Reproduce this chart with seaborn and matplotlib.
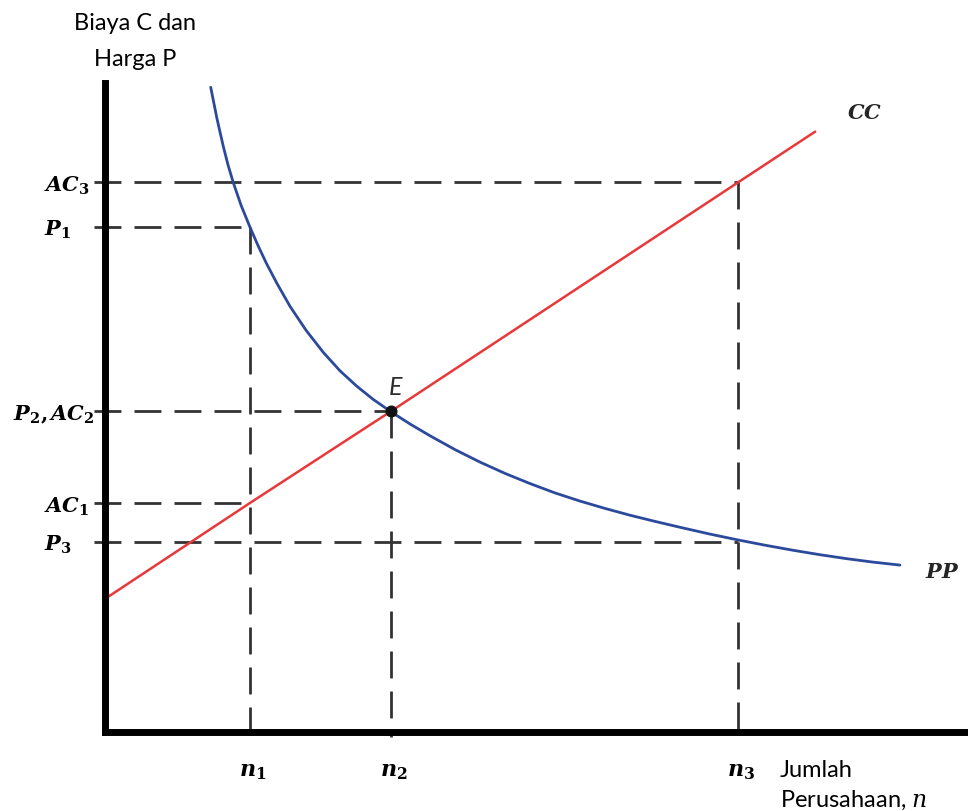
import matplotlib
matplotlib.use("Agg")
import matplotlib.pyplot as plt
import pandas as pd
import seaborn as sns

# PP curve: price P against the number of firms n
pp_n = [12.30, 13.03, 13.76, 14.30, 14.92, 15.81, 16.85, 17.78, 18.78, 19.98,
        21.48, 23.34, 25.34, 27.27, 29.21, 31.09, 33.18, 35.38, 37.70, 40.59,
        43.49, 46.38, 49.28, 52.17, 55.07, 57.96, 60.86, 63.75, 66.65, 70.12,
        73.40, 76.49, 79.77, 82.86, 85.95, 89.00, 92.12]
pp_price = [99.34, 94.48, 90.21, 87.39, 84.61, 81.17, 77.76, 74.93, 72.11, 69.08,
            65.57, 61.87, 58.46, 55.62, 53.25, 51.24, 49.30, 47.42, 45.60, 43.47,
            41.54, 39.80, 38.23, 36.79, 35.53, 34.40, 33.35, 32.40, 31.49, 30.44,
            29.53, 28.73, 27.94, 27.26, 26.65, 26.12, 25.66]

# CC line: average cost against the number of firms n
cc_n = [0.0, 16.8, 33.2, 73.4, 82.3]
cc_cost = [20.4, 35.2, 49.4, 84.7, 92.5]

# firm counts marked on the horizontal axis
n_marks = [16.8, 33.2, 73.4]
n_labels = [r"$\boldsymbol{n}_{\mathbf{1}}$",
            r"$\boldsymbol{n}_{\mathbf{2}}$",
            r"$\boldsymbol{n}_{\mathbf{3}}$"]

# price / cost levels on the vertical axis and the n where each one meets its curve
levels = [84.66, 77.84, 49.35, 35.19, 29.27]
level_n = [73.4, 16.8, 33.2, 16.8, 73.4]
level_labels = [r"$\boldsymbol{AC}_{\mathbf{3}}$",
                r"$\boldsymbol{P}_{\mathbf{1}}$",
                r"$\boldsymbol{P}_{\mathbf{2}}\mathbf{,}\,\boldsymbol{AC}_{\mathbf{2}}$",
                r"$\boldsymbol{AC}_{\mathbf{1}}$",
                r"$\boldsymbol{P}_{\mathbf{3}}$"]

# long-run equilibrium
eq_n = 33.2
eq_price = 49.35

sns.set_theme(style="white")
plt.rcParams["font.family"] = ["Lato", "DejaVu Sans"]
plt.rcParams["mathtext.fontset"] = "dejavuserif"

W, H, DPI = 968, 812, 100
fig = plt.figure(figsize=(W / DPI, H / DPI), dpi=DPI)
fig.patch.set_facecolor("white")
ax = fig.add_axes([104.5 / W, (H - 732.5) / H, (W - 104.5) / W, (732.5 - 84) / H])
ax.set_xlim(0, 100)
ax.set_ylim(0, 100)
ax.set_facecolor("white")

px = 72 / DPI  # points per pixel

dash_style = dict(color="#333333", lw=2.0, dashes=(9.7, 4.7), clip_on=False, zorder=1)

# horizontal guides from the vertical axis to the curves
for lvl, reach in zip(levels, level_n):
    ax.plot([-1.2, reach], [lvl, lvl], **dash_style)

# vertical guides from the highest level at each n down to the axis
for n in n_marks:
    top = max(l for l, r in zip(levels, level_n) if r == n)
    ax.plot([n, n], [top, -0.8], **dash_style)

pp = pd.DataFrame({"n": pp_n, "price": pp_price})
cc = pd.DataFrame({"n": cc_n, "cost": cc_cost})
sns.lineplot(data=pp, x="n", y="price", sort=False, estimator=None,
             color="#2b4a9c", lw=2.0, ax=ax, zorder=3)
sns.lineplot(data=cc, x="n", y="cost", sort=False, estimator=None,
             color="#e8383a", lw=1.8, ax=ax, zorder=2)
sns.scatterplot(x=[eq_n], y=[eq_price], color="#111111", s=75, ax=ax,
                zorder=5, edgecolor="#111111", linewidth=0)

ax.set_xlabel("")
ax.set_ylabel("")
ax.set_xticks([])
ax.set_yticks([])
for side in ("top", "right"):
    ax.spines[side].set_visible(False)
for side in ("left", "bottom"):
    ax.spines[side].set_visible(True)
    ax.spines[side].set_color("black")
    ax.spines[side].set_linewidth(5.0)
    ax.spines[side].set_zorder(6)

# level labels on the vertical axis
for lbl, lvl in zip(level_labels, levels):
    if "," in lbl:
        ax.annotate(lbl, xy=(0, lvl), xytext=(-10 * px, -8 * px),
                    textcoords="offset points", ha="right", va="baseline",
                    fontsize=15, color="black", annotation_clip=False)
    else:
        ax.annotate(lbl, xy=(0, lvl), xytext=(-61 * px, -8 * px),
                    textcoords="offset points", ha="left", va="baseline",
                    fontsize=15, color="black", annotation_clip=False)

# firm-count labels under the horizontal axis
for lbl, n in zip(n_labels, n_marks):
    ax.annotate(lbl, xy=(n, 0), xytext=(3 * px, -30 * px),
                textcoords="offset points", ha="center", va="top",
                fontsize=16, color="black", annotation_clip=False)

# curve names and equilibrium point
ax.text(86.0, 95.5, r"$\boldsymbol{CC}$", fontsize=15, ha="left", va="center")
ax.text(95.0, 24.7, r"$\boldsymbol{PP}$", fontsize=15, ha="left", va="center")
ax.annotate("E", xy=(eq_n, eq_price), xytext=(4 * px, 25 * px),
            textcoords="offset points", ha="center", va="center",
            fontsize=18, fontstyle="italic", color="#2e2e2e")

# axis titles
fig.text(135 / W, 1 - 13 / H, "Biaya C dan\nHarga P", ha="center", va="top",
         fontsize=17, linespacing=1.9, color="black")
ax.annotate("Jumlah\nPerusahaan, $n$", xy=(1, 0), xycoords="axes fraction",
            xytext=(-188 * px, -28 * px), textcoords="offset points",
            ha="left", va="top", fontsize=17, linespacing=1.4,
            color="black", annotation_clip=False)

fig.savefig("out.png", dpi=DPI, facecolor="white")
